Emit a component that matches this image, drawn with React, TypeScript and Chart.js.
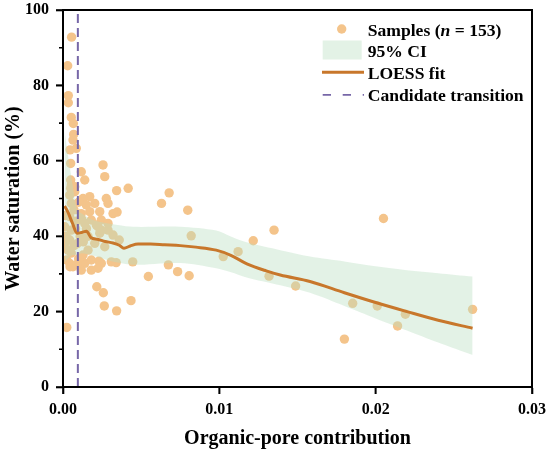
import { useEffect, useRef } from 'react';
import Chart from 'chart.js/auto';

// sample points (x = organic-pore contribution, y = water saturation %)
const sampleX = [
  0.00055, 0.0003, 0.00034, 0.00034, 0.00053, 0.00066, 0.00068, 0.00064, 0.00085, 0.00045,
  0.00049, 0.00117, 0.00139, 0.00049, 0.00053, 0.00075, 0.00049, 0.00075, 0.00043, 0.00256,
  0.00267, 0.00343, 0.00417, 0.0063, 0.00679, 0.00798, 0.00277, 0.00288, 0.00346, 0.00171,
  0.00128, 0.00149, 0.00203, 0.00171, 0.00235, 0.00117, 0.00181, 0.00245, 0.00139, 0.00213,
  0.00245, 0.0032, 0.00288, 0.00053, 0.00043, 0.00011, 0.00053, 0.00043, 0.00032, 0.00053,
  0.00043, 0.00064, 0.00128, 0.00139, 0.00181, 0.0016, 0.00203, 0.00235, 0.00224, 0.00288,
  0.00267, 0.00245, 0.00224, 0.00117, 0.00181, 0.0032, 0.00309, 0.00024, 0.00045, 0.00024,
  0.00216, 0.00258, 0.00264, 0.00343, 0.00435, 0.00546, 0.00674, 0.00733, 0.00807, 0.0082,
  0.00446, 0.0034, 0.0036, 0.01025, 0.0112, 0.01217, 0.0135, 0.01318, 0.01488, 0.01853,
  0.0201, 0.0219, 0.0214, 0.018, 0.0262, 0.0205, 0.00015, 0.0002, 0.0001, 0.00085,
  0.0009, 0.001, 0.0008, 0.0011, 0.0013, 0.0015, 0.0016, 0.0012, 0.0007, 0.001,
  0.0007, 0.0009, 0.0023,
];
const sampleY = [
  92.8, 85.2, 77.3, 75.4, 71.5, 69.9, 67.0, 65.5, 63.3, 62.9,
  59.3, 57.1, 54.9, 54.9, 53.6, 53.1, 52.7, 51.8, 50.9, 58.9,
  55.8, 52.1, 52.7, 48.7, 51.5, 46.9, 50.0, 48.7, 46.4, 50.5,
  50.0, 48.3, 48.7, 46.5, 46.5, 46.0, 44.3, 44.3, 43.4, 43.0,
  41.6, 46.0, 43.4, 48.7, 45.2, 42.5, 41.6, 39.0, 36.3, 35.5,
  32.8, 31.9, 35.0, 32.8, 33.7, 36.3, 38.1, 40.8, 42.5, 41.6,
  37.2, 32.8, 31.5, 31.0, 31.0, 40.3, 33.2, 33.7, 31.9, 15.8,
  26.6, 25.0, 21.5, 20.2, 22.9, 29.3, 32.4, 30.6, 29.5, 40.1,
  33.2, 33.0, 39.0, 34.6, 35.9, 38.8, 41.6, 29.4, 26.8, 22.2,
  21.5, 19.3, 16.2, 12.7, 20.6, 44.7, 45.5, 40.0, 38.0, 44.0,
  38.0, 34.0, 42.0, 40.0, 38.5, 42.0, 40.0, 44.5, 47.0, 49.0,
  37.5, 32.5, 33.4,
];

// LOESS curve
const fitX = [
  0.0001, 0.0003, 0.0006, 0.0009, 0.0012, 0.0015, 0.0018, 0.0022, 0.0027, 0.0032,
  0.0036, 0.0039, 0.0043, 0.0048, 0.0056, 0.0065, 0.0075, 0.0085, 0.0098, 0.0107,
  0.0118, 0.013, 0.0139, 0.0158, 0.018, 0.02, 0.022, 0.024, 0.0262,
];
const fitY = [
  48.0, 46.5, 43.5, 40.8, 41.0, 41.3, 39.6, 39.2, 38.6, 38.2,
  37.6, 36.8, 37.4, 37.9, 37.9, 37.7, 37.5, 37.1, 36.3, 35.0,
  32.6, 30.8, 29.7, 28.0, 25.0, 22.4, 20.0, 17.7, 15.6,
];

// 95% confidence band
const ciX = [
  0.0001, 0.0003, 0.0006, 0.0009, 0.0012, 0.0018, 0.0027, 0.0035, 0.0045, 0.0075,
  0.0098, 0.0107, 0.0118, 0.0139, 0.0158, 0.018, 0.02, 0.022, 0.024, 0.0262,
];
const ciUpper = [
  68, 62, 54, 47, 46, 44.5, 43.5, 43, 42.5, 42.5,
  41.5, 40, 38.3, 36.3, 34.6, 33.3, 32, 31, 30.2, 29.3,
];
const ciLower = [
  33, 34, 35, 35, 35.5, 35, 33.8, 33, 32.4, 32.9,
  31.5, 30.5, 29, 27, 25, 21.5, 18.2, 15, 11.8, 8.5,
];

const transitionX = 0.00095;
const xTicks = [0, 0.01, 0.02, 0.03];
const yTicks = [0, 20, 40, 60, 80, 100];
const yMinorTicks = [10, 30, 50, 70, 90];
const legendLabels = ['Samples', '95% CI', 'LOESS fit', 'Candidate transition'];
const sampleCount = 153;

const FONT = '"Liberation Serif", "Times New Roman", serif';
const POINT = '#f4c48b';
const BAND = 'rgba(185, 222, 192, 0.4)';
const FIT = '#c8772b';
const DASH = '#7767a8';

const decorPlugin = {
  id: 'decor',
  afterDraw(chart: any) {
    const { ctx, scales } = chart;
    const xs = scales.x;
    const ys = scales.y;
    const left = xs.getPixelForValue(0);
    const right = xs.getPixelForValue(0.03);
    const top = ys.getPixelForValue(100);
    const bottom = ys.getPixelForValue(0);
    ctx.save();

    // frame and tick marks
    ctx.strokeStyle = '#000';
    ctx.lineWidth = 2;
    ctx.strokeRect(left, top, right - left, bottom - top);

    ctx.lineWidth = 1.6;
    ctx.beginPath();
    for (const v of xTicks) {
      const px = xs.getPixelForValue(v);
      ctx.moveTo(px, bottom);
      ctx.lineTo(px, bottom + 7);
    }
    for (const v of yTicks) {
      const py = ys.getPixelForValue(v);
      ctx.moveTo(left, py);
      ctx.lineTo(left - 7, py);
    }
    for (const v of yMinorTicks) {
      const py = ys.getPixelForValue(v);
      ctx.moveTo(left, py);
      ctx.lineTo(left - 4, py);
    }
    ctx.stroke();

    // axis titles
    ctx.fillStyle = '#000';
    ctx.font = `bold 20px ${FONT}`;
    ctx.textAlign = 'center';
    ctx.textBaseline = 'alphabetic';
    ctx.fillText('Organic-pore contribution', (left + right) / 2, 443.5);
    ctx.save();
    ctx.translate(18.5, (top + bottom) / 2);
    ctx.rotate(-Math.PI / 2);
    ctx.fillText('Water saturation (%)', 0, 0);
    ctx.restore();

    // legend
    const tx = 367.7;
    const rows = [35.5, 57.3, 79.1, 100.9];
    const mid = [29, 50.5, 72.3, 94.8];
    ctx.textAlign = 'left';
    ctx.font = `bold 17.6px ${FONT}`;

    ctx.fillStyle = POINT;
    ctx.beginPath();
    ctx.arc(341.7, mid[0], 4.7, 0, Math.PI * 2);
    ctx.fill();
    ctx.fillStyle = '#000';
    let x = tx;
    const pre = `${legendLabels[0]} (`;
    ctx.fillText(pre, x, rows[0]);
    x += ctx.measureText(pre).width;
    ctx.font = `italic bold 17.6px ${FONT}`;
    ctx.fillText('n', x, rows[0]);
    x += ctx.measureText('n').width;
    ctx.font = `bold 17.6px ${FONT}`;
    ctx.fillText(` = ${sampleCount})`, x, rows[0]);

    ctx.fillStyle = BAND;
    ctx.fillRect(322.7, 40.5, 39, 19);
    ctx.fillStyle = '#000';
    ctx.fillText(legendLabels[1], tx, rows[1]);

    ctx.strokeStyle = FIT;
    ctx.lineWidth = 3;
    ctx.beginPath();
    ctx.moveTo(322, mid[2]);
    ctx.lineTo(364, mid[2]);
    ctx.stroke();
    ctx.fillText(legendLabels[2], tx, rows[2]);

    ctx.strokeStyle = DASH;
    ctx.lineWidth = 1.8;
    ctx.setLineDash([8.3, 11.7]);
    ctx.beginPath();
    ctx.moveTo(322.7, mid[3]);
    ctx.lineTo(364, mid[3]);
    ctx.stroke();
    ctx.setLineDash([]);
    ctx.fillText(legendLabels[3], tx, rows[3]);

    ctx.restore();
  },
};

export default function App() {
  const canvasRef = useRef<HTMLCanvasElement>(null);
  const chartRef = useRef<Chart | null>(null);

  useEffect(() => {
    document.body.style.margin = '0';
    if (!canvasRef.current) return;
    if (chartRef.current) chartRef.current.destroy();
    const ctx = canvasRef.current.getContext('2d');
    if (!ctx) return;

    const tickFont = { family: FONT, size: 16, weight: 'bold' as const };

    chartRef.current = new Chart(ctx, {
      type: 'scatter',
      data: {
        datasets: [
          {
            type: 'line',
            data: fitX.map((x, i) => ({ x, y: fitY[i] })),
            borderColor: FIT,
            borderWidth: 3,
            pointRadius: 0,
            cubicInterpolationMode: 'monotone',
            fill: false,
            order: 0,
          },
          {
            type: 'line',
            data: [
              { x: transitionX, y: 0 },
              { x: transitionX, y: 100 },
            ],
            borderColor: DASH,
            borderWidth: 2,
            borderDash: [9, 5],
            pointRadius: 0,
            fill: false,
            order: 1,
          },
          {
            type: 'line',
            data: ciX.map((x, i) => ({ x, y: ciUpper[i] })),
            borderWidth: 0,
            borderColor: 'rgba(0,0,0,0)',
            backgroundColor: BAND,
            pointRadius: 0,
            tension: 0.3,
            fill: '+1',
            order: 2,
          },
          {
            type: 'line',
            data: ciX.map((x, i) => ({ x, y: ciLower[i] })),
            borderWidth: 0,
            borderColor: 'rgba(0,0,0,0)',
            pointRadius: 0,
            tension: 0.3,
            fill: false,
            order: 3,
          },
          {
            type: 'scatter',
            data: sampleX.map((x, i) => ({ x, y: sampleY[i] })),
            backgroundColor: POINT,
            borderWidth: 0,
            pointRadius: 4.7,
            order: 4,
          },
        ] as any,
      },
      options: {
        responsive: false,
        animation: false,
        layout: { padding: { top: 10, right: 18, left: 0, bottom: 0 } },
        scales: {
          x: {
            type: 'linear',
            min: 0,
            max: 0.03,
            border: { display: true, color: '#000', width: 2 },
            grid: { drawOnChartArea: false, tickLength: 7, tickColor: '#000', tickWidth: 1.6 },
            ticks: {
              stepSize: 0.01,
              color: '#000',
              font: tickFont,
              padding: 6,
              maxRotation: 0,
              callback: (v) => Number(v).toFixed(2),
            },
            afterFit: (s: any) => {
              s.height = 64;
              s.paddingLeft = 0;
              s.paddingRight = 0;
            },
          },
          y: {
            min: 0,
            max: 100,
            border: { display: true, color: '#000', width: 2 },
            grid: { drawOnChartArea: false, tickLength: 7, tickColor: '#000', tickWidth: 1.6 },
            ticks: { stepSize: 20, color: '#000', font: tickFont, padding: 7 },
            afterFit: (s: any) => {
              s.width = 63;
              s.paddingTop = 0;
              s.paddingBottom = 0;
            },
          },
        },
        plugins: {
          legend: { display: false },
          tooltip: { enabled: false },
        },
      },
      plugins: [decorPlugin],
    });

    return () => {
      if (chartRef.current) {
        chartRef.current.destroy();
        chartRef.current = null;
      }
    };
  }, []);

  return (
    <div style={{ width: 550, height: 451, background: '#fff' }}>
      <canvas ref={canvasRef} width={550} height={451} />
    </div>
  );
}
